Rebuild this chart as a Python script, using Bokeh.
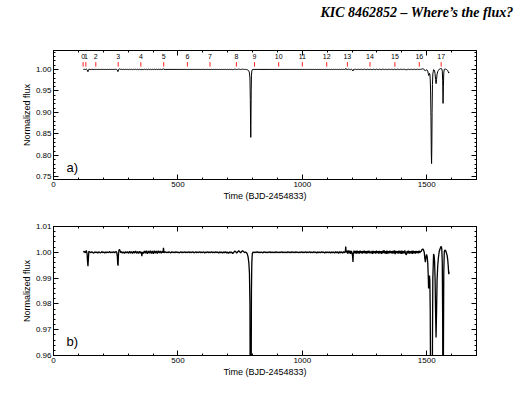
from bokeh.plotting import figure
from bokeh.layouts import column
from bokeh.models import LinearAxis, SingleIntervalTicker, FixedTicker, NumeralTickFormatter, Label, Range1d
from bokeh.core.properties import value
from bokeh.embed import file_html
from bokeh.resources import INLINE

title_text = "KIC 8462852 \u2013 Where\u2019s the flux?"
x_label = "Time (BJD-2454833)"
y_label = "Normalized flux"

quarter_labels = ["0", "1", "2", "3", "4", "5", "6", "7", "8", "9",
                  "10", "11", "12", "13", "14", "15", "16", "17"]
quarter_start = [119, 130, 170, 260, 351, 443, 538, 629, 735, 808,
                 905, 1000, 1098, 1181, 1272, 1372, 1470, 1558]

time_days = [
    120, 124, 128, 132, 135, 137, 138.5, 140, 142, 146, 150, 154, 158, 162, 166, 170,
    174, 178, 182, 186, 190, 194, 198, 202, 206, 210, 214, 218, 222, 226, 230, 234,
    238, 242, 246, 250, 254, 256.5, 258, 259.5, 261, 263, 265, 268, 271, 274, 278, 282,
    286, 290, 294, 298,
    302, 306, 310, 314, 318, 322, 326, 330, 334, 338, 342, 346, 350, 353, 355, 357,
    361, 365, 369, 373, 377, 381, 385, 389, 393, 397, 401, 405, 409, 413, 417, 421,
    425, 429, 433, 437, 440, 442, 444, 448,
    452, 456, 460, 464, 468, 472, 476, 480, 484, 488, 492, 496, 500, 504, 508, 512,
    516, 520, 524, 528, 532, 536, 540, 544, 548, 552, 556, 560, 564, 568, 572, 576,
    580, 584, 588, 592, 596, 600, 604, 608, 612, 616, 620, 624, 628, 632, 636, 640,
    644, 648, 652, 656, 660, 664, 668, 672, 676, 680, 684, 688, 692, 696, 700, 704,
    708, 712, 716, 720, 724, 728, 732, 736, 740, 744, 748, 752, 756, 760, 764, 768,
    772, 776,
    779, 782, 785, 787.5, 789.5, 791, 792, 792.8, 793.6, 794.5, 795.5, 797, 799, 802,
    806, 810, 814, 818, 822, 826, 830, 834, 838, 842, 846, 850, 854, 858, 862, 866,
    870, 874, 878, 882, 886, 890, 894, 898, 902, 906, 910, 914, 918, 922, 926, 930,
    934, 938, 942, 946, 950, 954, 958, 962, 966, 970, 974, 978, 982, 986, 990, 994,
    998, 1002, 1006, 1010, 1014, 1018, 1022, 1026, 1030, 1034, 1038, 1042, 1046, 1050,
    1054, 1058, 1062, 1066, 1070, 1074, 1078, 1082, 1086, 1090, 1094, 1098, 1102, 1106,
    1110, 1114, 1118, 1122, 1126, 1130, 1134, 1138, 1142, 1146, 1150, 1154, 1158, 1162,
    1166, 1170,
    1173, 1174.5, 1176, 1179, 1182, 1185, 1188, 1191, 1194, 1197, 1200, 1202, 1203.5,
    1205, 1208, 1211, 1214, 1217, 1220, 1223, 1226, 1229, 1232, 1235, 1238, 1241, 1244,
    1247, 1250, 1253, 1256, 1259, 1262, 1265, 1268, 1271, 1274, 1277, 1280, 1283, 1286,
    1289, 1292, 1295, 1298, 1301, 1304, 1307, 1310, 1313, 1316, 1319, 1322, 1325, 1328,
    1331, 1334, 1337, 1340, 1343, 1346, 1349, 1352, 1355, 1358, 1361, 1364, 1367, 1370,
    1373, 1376, 1379, 1382, 1385, 1388, 1391, 1394, 1397, 1400, 1403, 1406, 1409, 1412,
    1415, 1418, 1421, 1424, 1427, 1430, 1433, 1436, 1439, 1442, 1445, 1448, 1451, 1454,
    1457, 1460, 1463, 1466, 1469, 1472, 1475,
    1478, 1481, 1484, 1487, 1490, 1492.5, 1494.5, 1496.5, 1499, 1501.5, 1504, 1506,
    1507.5, 1509, 1511, 1512.5, 1514, 1515.5, 1517, 1518.5, 1519.5, 1520.5, 1521.5,
    1523, 1524.5, 1526, 1527.5, 1529.5, 1531.5, 1533.5, 1535.5, 1537.5, 1539.5, 1541.5,
    1544, 1547, 1550, 1553, 1556, 1558.5, 1560.5, 1562.5, 1564, 1565.5, 1567, 1568.5,
    1570.5, 1573, 1576, 1579, 1582, 1584.5, 1586.5, 1588.5, 1590,
]

flux = [
    1.0000, 1.0004, 0.9998, 1.0007, 0.9994, 0.9962, 0.9946, 0.9970, 1.0004, 1.0001, 0.9998, 1.0002, 0.9999, 0.9997, 1.0002, 0.9999,
    1.0001, 0.9997, 1.0002, 0.9999, 0.9998, 1.0003, 0.9999, 1.0001, 0.9997, 1.0002, 0.9998, 1.0001, 0.9999, 1.0003, 0.9998, 1.0001,
    0.9999, 1.0002, 0.9998, 1.0003, 1.0001, 0.9985, 0.9955, 0.9948, 0.9990, 1.0008, 1.0011, 1.0005, 0.9998, 1.0003, 0.9997, 1.0002,
    0.9996, 1.0003, 0.9998, 1.0002,
    0.9996, 1.0004, 0.9997, 1.0003, 0.9995, 1.0004, 0.9997, 1.0005, 0.9996, 1.0003, 0.9995, 1.0004, 0.9997, 1.0002, 0.9985, 1.0001,
    0.9995, 1.0005, 0.9996, 1.0006, 0.9994, 1.0005, 0.9996, 1.0006, 0.9995, 1.0005, 0.9994, 1.0006, 0.9996, 1.0005, 0.9995, 1.0006,
    0.9997, 1.0005, 0.9996, 1.0004, 0.9999, 1.0017, 0.9998, 1.0002,
    0.9999, 1.0001, 0.9998, 1.0002, 1.0000, 0.9998, 1.0002, 0.9999, 1.0001, 0.9998, 1.0002, 0.9999, 1.0001, 0.9998, 1.0000, 1.0002,
    0.9998, 1.0001, 0.9999, 1.0002, 0.9998, 1.0001, 0.9999, 1.0002, 0.9998, 1.0001, 0.9999, 1.0002, 0.9998, 1.0000, 1.0002, 0.9998,
    1.0001, 0.9999, 1.0002, 0.9998, 1.0001, 0.9999, 1.0002, 0.9997, 1.0001, 0.9999, 1.0002, 0.9998, 1.0001, 0.9999, 1.0002, 0.9998,
    1.0001, 0.9998, 1.0002, 0.9999, 1.0001, 0.9997, 1.0002, 0.9998, 1.0001, 0.9997, 1.0002, 0.9998, 1.0003, 0.9997, 1.0001, 0.9996,
    1.0002, 0.9998, 1.0001, 0.9995, 0.9999, 1.0005, 1.0003, 0.9997, 1.0001, 1.0006, 1.0003, 0.9998, 1.0003, 1.0006, 1.0002, 0.9999,
    1.0001, 0.9998,
    0.9993, 0.9982, 0.9960, 0.9920, 0.9800, 0.9300, 0.8700, 0.8420, 0.8800, 0.9500, 0.9850, 0.9960, 0.9995, 1.0001,
    0.9999, 1.0001, 0.9999, 1.0002, 0.9999, 1.0001, 0.9998, 1.0001, 1.0000, 0.9998, 1.0002, 0.9999, 1.0001, 0.9998, 1.0001, 0.9999,
    1.0002, 0.9998, 1.0001, 0.9999, 1.0001, 0.9998, 1.0002, 0.9999, 1.0001, 0.9998, 1.0001, 0.9999, 1.0002, 0.9998, 1.0001, 0.9999,
    1.0001, 0.9998, 1.0002, 0.9999, 1.0001, 0.9998, 1.0002, 0.9999, 1.0001, 0.9998, 1.0002, 0.9999, 1.0001, 0.9998, 1.0001, 0.9999,
    1.0002, 0.9998, 1.0001, 0.9999, 1.0002, 0.9998, 1.0001, 0.9999, 1.0002, 0.9998, 1.0001, 0.9998, 1.0002, 0.9999,
    1.0001, 0.9997, 1.0002, 0.9998, 1.0001, 0.9998, 1.0002, 0.9999, 1.0001, 0.9997, 1.0002, 0.9998, 1.0001, 0.9998,
    1.0002, 0.9997, 1.0002, 0.9998, 1.0001, 0.9997, 1.0003, 0.9998, 1.0002, 0.9996, 1.0003, 0.9998, 1.0002, 0.9997,
    1.0003, 0.9998,
    1.0004, 1.0022, 0.9999, 1.0006, 0.9995, 1.0007, 0.9996, 1.0006, 0.9994, 1.0005, 0.9997, 0.9985, 0.9963,
    0.9995, 1.0006, 0.9996, 1.0005, 0.9995, 1.0006, 0.9996, 1.0004, 0.9995, 1.0006, 0.9997, 1.0004, 0.9995, 1.0005,
    0.9997, 1.0006, 0.9996, 1.0004, 0.9995, 1.0005, 0.9997, 1.0006, 0.9996, 1.0003, 0.9996, 1.0005, 0.9994, 1.0005,
    0.9997, 1.0004, 0.9995, 1.0006, 0.9997, 1.0004, 0.9995, 1.0005, 0.9996, 1.0004, 0.9994, 1.0005, 0.9997, 1.0008,
    0.9996, 1.0004, 0.9994, 1.0006, 0.9995, 1.0004, 0.9996, 1.0006, 0.9997, 1.0004, 0.9995, 1.0005, 0.9996, 1.0007,
    0.9993, 1.0005, 0.9997, 1.0004, 0.9995, 1.0006, 0.9996, 1.0005, 0.9994, 1.0006, 0.9995, 1.0004, 0.9996, 1.0007,
    0.9995, 0.9990, 1.0005, 0.9996, 1.0006, 0.9995, 1.0004, 0.9996, 1.0005, 0.9994, 1.0006, 0.9996, 1.0004, 0.9995,
    1.0005, 0.9997, 1.0004, 0.9996, 1.0006, 0.9998, 1.0003,
    1.0004, 1.0011, 1.0013, 1.0009, 1.0000, 0.9975, 0.9962, 0.9978, 0.9992, 0.9985, 0.9960, 0.9910,
    0.9860, 0.9865, 0.9910, 0.9890, 0.9780, 0.9500, 0.8900, 0.8000, 0.7810, 0.8200, 0.9000,
    0.9650, 0.9900, 0.9945, 0.9993, 0.9988, 0.9965, 0.9900, 0.9770, 0.9670, 0.9770, 0.9890,
    0.9945, 0.9980, 1.0002, 1.0012, 1.0020, 1.0023, 1.0012, 0.9960, 0.9750, 0.9210, 0.9600, 0.9920,
    1.0002, 1.0009, 1.0006, 0.9998, 0.9988, 0.9970, 0.9945, 0.9915, 0.9925,
]

LABEL_FONT = "Liberation Sans"
X_MAX = 1700


def style_axis(ax):
    ax.axis_line_color = "black"
    ax.major_tick_line_color = "black"
    ax.minor_tick_line_color = "black"
    ax.major_tick_in = 5
    ax.major_tick_out = 0
    ax.minor_tick_in = 2
    ax.minor_tick_out = 0
    ax.major_label_text_font = LABEL_FONT
    ax.major_label_text_color = "black"
    ax.major_label_text_font_size = "8px"
    ax.major_label_standoff = 2
    ax.axis_label_text_font = LABEL_FONT
    ax.axis_label_text_font_style = "normal"
    ax.axis_label_text_color = "black"
    ax.axis_label_text_font_size = "9px"
    ax.axis_label_standoff = 1


def tick_axis(positions, length, draw_line):
    # an axis that draws only inward tick marks, without any labels
    ax = LinearAxis(ticker=FixedTicker(ticks=[], minor_ticks=positions))
    ax.axis_line_color = "black" if draw_line else None
    ax.major_tick_line_color = None
    ax.minor_tick_line_color = "black"
    ax.minor_tick_in = length
    ax.minor_tick_out = 0
    ax.major_tick_in = 0
    ax.major_tick_out = 0
    ax.major_label_standoff = 0
    ax.axis_label_standoff = 0
    return ax


def steps(start, stop, step):
    n = int(round((stop - start) / step))
    return [round(start + i * step, 4) for i in range(n + 1)]


def make_panel(ymin, ymax, yint, ytick_lo, ytick_hi, yfmt, height, top, bottom, tag, tag_y, lw):
    p = figure(width=529, height=height, output_backend="svg", toolbar_location=None,
               x_range=Range1d(0, X_MAX), y_range=Range1d(ymin, ymax),
               min_border_left=53, min_border_right=53,
               min_border_top=top, min_border_bottom=bottom)
    p.background_fill_color = "white"
    p.border_fill_color = "white"
    p.outline_line_color = "black"
    p.xgrid.grid_line_color = None
    p.ygrid.grid_line_color = None
    p.xaxis.ticker = SingleIntervalTicker(interval=500, num_minor_ticks=5)
    p.yaxis.ticker = SingleIntervalTicker(interval=yint, num_minor_ticks=5)
    p.yaxis.formatter = NumeralTickFormatter(format=yfmt)
    p.xaxis.axis_label = x_label
    p.yaxis.axis_label = y_label
    style_axis(p.xaxis[0])
    style_axis(p.yaxis[0])
    p.add_layout(tick_axis(steps(0, 1500, 500), 5, True), "above")
    p.add_layout(tick_axis(steps(0, X_MAX, 100), 2, False), "above")
    p.add_layout(tick_axis(steps(ytick_lo, ytick_hi, yint), 5, True), "right")
    p.add_layout(tick_axis(steps(ytick_lo, ytick_hi, yint / 5), 2, False), "right")
    p.line(time_days, flux, line_color="black", line_width=lw)
    p.add_layout(Label(x=52, y=tag_y, text=tag, text_font=LABEL_FONT, text_font_size="13px",
                       text_baseline="middle", text_align="left", text_color="black"))
    return p


# title strip: a plot whose only visible content is its title
STRIP_H = 30
p0 = figure(width=529, height=STRIP_H, output_backend="svg", toolbar_location=None,
            x_range=Range1d(0, X_MAX), y_range=Range1d(0, 1),
            x_axis_type=None, y_axis_type=None,
            min_border_left=53, min_border_right=53, min_border_top=0, min_border_bottom=0)
p0.outline_line_color = None
p0.xgrid.grid_line_color = None
p0.ygrid.grid_line_color = None
p0.title.text = title_text
p0.title.align = "right"
p0.title.offset = -37
p0.title.standoff = 4
p0.title.text_font = "Liberation Serif"
p0.title.text_font_style = "bold italic"
p0.title.text_font_size = "14px"
p0.title.text_color = "black"

p1 = make_panel(0.744, 1.044, 0.05, 0.75, 1.04, "0.00", 206 - STRIP_H, 50 - STRIP_H, 27,
                "a)", 0.7727, 1.0)
p1.segment(x0=quarter_start, y0=[1.0065] * len(quarter_start),
           x1=quarter_start, y1=[1.017] * len(quarter_start),
           line_color="#ff2020", line_width=1)
p1.text(x=quarter_start, y=[1.029] * len(quarter_start), text=quarter_labels,
        text_font=value(LABEL_FONT), text_font_size=value("7px"),
        text_align="center", text_baseline="middle", text_color="black")

p2 = make_panel(0.96, 1.01, 0.01, 0.96, 1.01, "0.00", 193, 20, 44, "b)", 0.9655, 1.3)

layout = column(p0, p1, p2)
open("out.html", "w").write(file_html(layout, INLINE))
